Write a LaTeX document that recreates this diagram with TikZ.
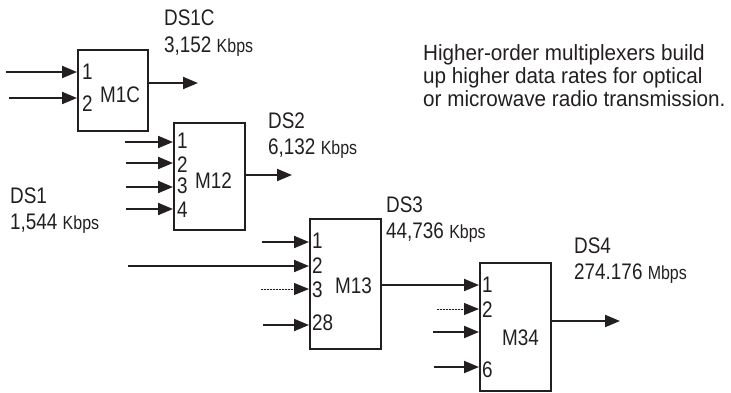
\documentclass[tikz,border=0pt]{standalone}
\usepackage{fontspec}
\setmainfont{Liberation Sans}[FakeStretch=0.84]
\newfontfamily\notefont{Liberation Sans}[FakeStretch=0.94]
\usetikzlibrary{arrows.meta}
\definecolor{ink}{HTML}{231F20}
\newcommand{\unitsz}[1]{{\fontsize{19}{21}\selectfont #1}}
\begin{document}
\begin{tikzpicture}[x=1pt,y=-1pt,
  txt/.style={anchor=base west, inner sep=0pt, font=\fontsize{22.5}{24}\selectfont, text=ink},
  notetxt/.style={anchor=base west, inner sep=0pt, font=\notefont\fontsize{22}{24}\selectfont, text=ink},
  muxbox/.style={draw=ink, line width=2pt, inner sep=0pt, anchor=north west},
  sig/.style={draw=ink, line width=2pt, -{Triangle[length=15pt,width=12pt]}, fill=ink},
  dsig/.style={draw=ink, line width=1pt, dash pattern=on 1.5pt off 1.5pt, -{Triangle[length=15pt,width=12pt]}, fill=ink}]
\useasboundingbox (0,0) rectangle (731,392);

% boxes
\node[muxbox, minimum width=70pt, minimum height=81pt] (m1c) at (77,49) {};
\node[muxbox, minimum width=71pt, minimum height=107pt] (m12) at (173,122) {};
\node[muxbox, minimum width=71pt, minimum height=130pt] (m13) at (309,218) {};
\node[muxbox, minimum width=71pt, minimum height=128pt] (m34) at (479,262) {};

% free ends
\coordinate (c1a) at (6,72);
\coordinate (c1b) at (9,98);
\coordinate (c1o) at (198,83);
\coordinate (c2a) at (125,142);
\coordinate (c2b) at (126,163);
\coordinate (c2c) at (126,187);
\coordinate (c2d) at (126,209);
\coordinate (c2o) at (292,175);
\coordinate (c3a) at (262,242);
\coordinate (c3b) at (128,266);
\coordinate (c3c) at (261,289);
\coordinate (c3d) at (263,325);
\coordinate (c3o) at (380,285);
\coordinate (c4b) at (437,309);
\coordinate (c4c) at (433,332);
\coordinate (c4d) at (434,367);
\coordinate (c4o) at (620,321);

% connectors
\draw[sig] (c1a) -- (c1a -| m1c.west);
\draw[sig] (c1b) -- (c1b -| m1c.west);
\draw[sig] (c1o -| m1c.east) -- (c1o);
\draw[sig] (c2a) -- (c2a -| m12.west);
\draw[sig] (c2b) -- (c2b -| m12.west);
\draw[sig] (c2c) -- (c2c -| m12.west);
\draw[sig] (c2d) -- (c2d -| m12.west);
\draw[sig] (c2o -| m12.east) -- (c2o);
\draw[sig] (c3a) -- (c3a -| m13.west);
\draw[sig] (c3b) -- (c3b -| m13.west);
\draw[dsig] (c3c) -- (c3c -| m13.west);
\draw[sig] (c3d) -- (c3d -| m13.west);
\draw[sig] (c3o -| m13.east) -- (c3o -| m34.west);
\draw[dsig] (c4b) -- (c4b -| m34.west);
\draw[sig] (c4c) -- (c4c -| m34.west);
\draw[sig] (c4d) -- (c4d -| m34.west);
\draw[sig] (c4o -| m34.east) -- (c4o);

% box titles
\node[txt] (t1c) at (100,102) {M1C};
\node[txt] (t12) at (195,188) {M12};
\node[txt] (t13) at (335,293) {M13};
\node[txt] (t34) at (502,345) {M34};

% port labels
\node[txt] (p1c1) at (82,79) {1};
\node[txt] (p1c2) at (82,111) {2};
\node[txt] (p121) at (177,148) {1};
\node[txt] (p122) at (177,172) {2};
\node[txt] (p123) at (177,193) {3};
\node[txt] (p124) at (177,217) {4};
\node[txt] (p131) at (312,248) {1};
\node[txt] (p132) at (312,273) {2};
\node[txt] (p133) at (312,297) {3};
\node[txt] (p134) at (312,330) {28};
\node[txt] (p341) at (482,292) {1};
\node[txt] (p342) at (482,317) {2};
\node[txt] (p346) at (482,377) {6};

% rate labels
\node[txt] (ds1c) at (164,25) {DS1C};
\node[txt] (r1c) at (164,52) {3,152 \unitsz{Kbps}};
\node[txt] (ds2) at (268,128) {DS2};
\node[txt] (r2) at (268,154) {6,132 \unitsz{Kbps}};
\node[txt] (ds1) at (10,203) {DS1};
\node[txt] (r1) at (10,229) {1,544 \unitsz{Kbps}};
\node[txt] (ds3) at (386,212) {DS3};
\node[txt] (r3) at (386,238) {44,736 \unitsz{Kbps}};
\node[txt] (ds4) at (574,253) {DS4};
\node[txt] (r4) at (574,279) {274.176 \unitsz{Mbps}};

% note
\node[notetxt] (n1) at (423,60) {Higher-order multiplexers build};
\node[notetxt] (n2) at (423,83) {up higher data rates for optical};
\node[notetxt] (n3) at (423,106) {or microwave radio transmission.};
\end{tikzpicture}
\end{document}
